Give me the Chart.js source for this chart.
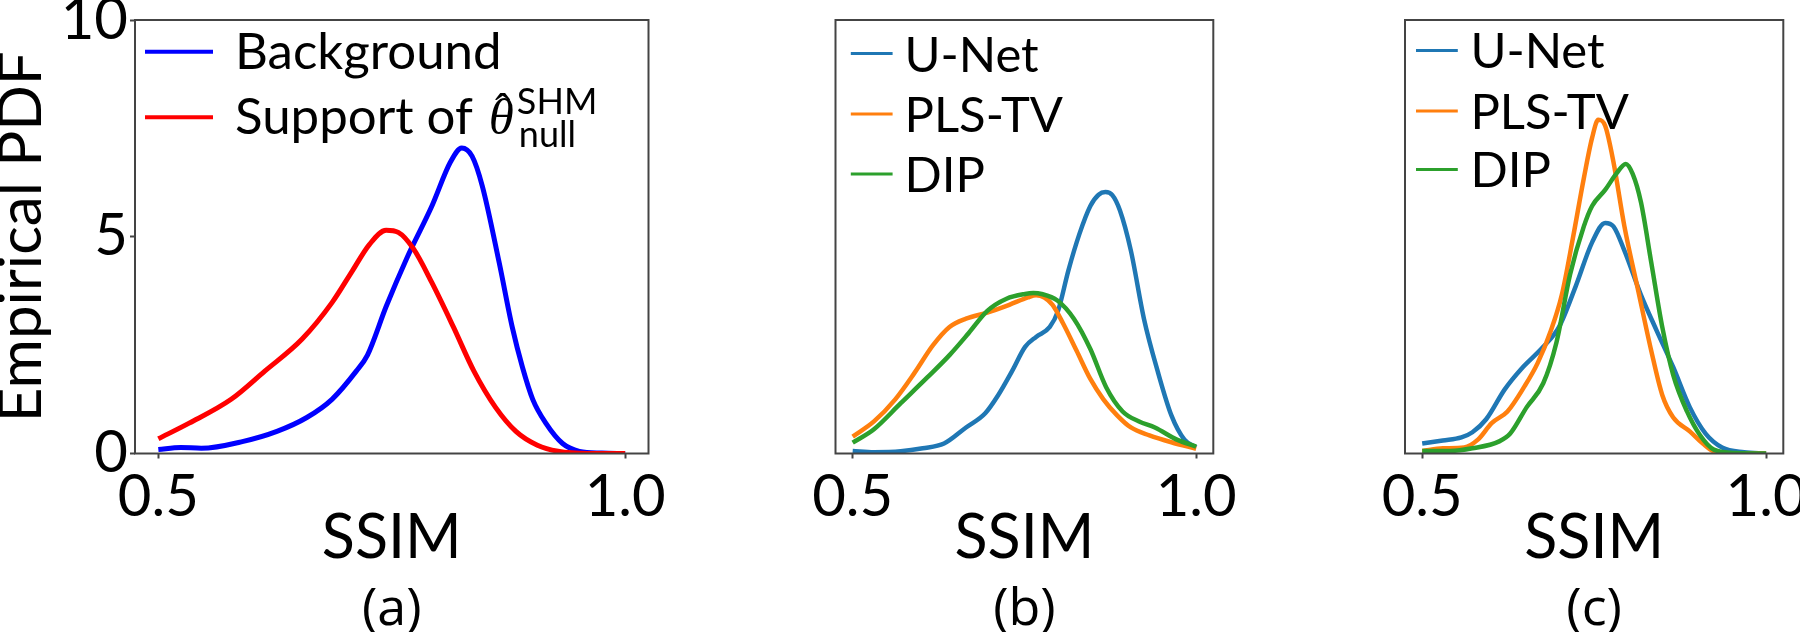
<!DOCTYPE html>
<html><head><meta charset="utf-8">
<script src="https://cdn.jsdelivr.net/npm/chart.js@4.4.1/dist/chart.umd.min.js"></script>
<style>
html,body{margin:0;padding:0;background:#fff;}
#wrap{position:relative;width:1800px;height:632px;overflow:hidden;background:#fff;}
canvas{position:absolute;left:0;top:0;}
</style></head><body>
<div id="wrap">
<canvas id="ca" width="1800" height="632"></canvas>
<canvas id="cb" width="1800" height="632"></canvas>
<canvas id="cc" width="1800" height="632"></canvas>
</div>
<script>
// ---------------- data ----------------
const xTicks = [0.5, 1.0];
const yTicks = [0, 5, 10];
const panelLabels = ['(a)', '(b)', '(c)'];
const xTitle = 'SSIM';
const yTitle = 'Empirical PDF';
const namesA = ['Background', 'Support of'];
const mathA = {sym: 'θ', hat: 'ˆ', sup: 'SHM', sub: 'null'};
const namesBC = ['U-Net', 'PLS-TV', 'DIP'];

// (a) Background
const bgX = [0.500,0.524,0.546,0.591,0.627,0.659,0.686,0.712,0.724,0.744,0.766,0.793,0.813,0.825,0.836,0.847,0.865,0.879,0.890,0.901,0.915,0.933,0.951,0.975,1.000];
const bgY = [0.09,0.14,0.12,0.28,0.51,0.83,1.25,1.90,2.27,3.39,4.50,5.71,6.73,7.05,6.86,6.17,4.41,2.92,1.99,1.25,0.70,0.23,0.05,0.01,0.00];
// (a) Support of theta
const supX = [0.500,0.533,0.578,0.614,0.654,0.686,0.708,0.726,0.744,0.757,0.773,0.793,0.816,0.838,0.861,0.883,0.906,0.928,0.960,1.000];
const supY = [0.34,0.70,1.25,1.90,2.64,3.48,4.22,4.82,5.15,5.10,4.73,3.94,2.92,1.90,1.07,0.51,0.19,0.05,0.00,0.00];

// (b)
const bUnetX = [0.500,0.531,0.570,0.602,0.633,0.665,0.693,0.712,0.732,0.751,0.767,0.787,0.799,0.814,0.830,0.846,0.858,0.868,0.878,0.889,0.905,0.924,0.944,0.964,0.983,1.000];
const bUnetY = [0.06,0.03,0.05,0.12,0.23,0.60,0.93,1.35,1.90,2.46,2.69,2.92,3.29,4.22,5.06,5.71,5.97,6.03,5.96,5.61,4.68,3.11,1.90,0.88,0.32,0.14];
const bPlsX = [0.500,0.531,0.562,0.590,0.617,0.641,0.665,0.696,0.728,0.755,0.767,0.779,0.791,0.806,0.826,0.846,0.865,0.885,0.905,0.932,0.964,1.000];
const bPlsY = [0.39,0.74,1.25,1.86,2.50,2.92,3.11,3.25,3.43,3.60,3.65,3.60,3.43,3.01,2.37,1.72,1.25,0.88,0.60,0.42,0.26,0.11];
const bDipX = [0.500,0.531,0.570,0.609,0.641,0.669,0.696,0.724,0.751,0.763,0.775,0.798,0.822,0.846,0.869,0.893,0.917,0.940,0.972,1.000];
const bDipY = [0.25,0.56,1.16,1.76,2.27,2.78,3.29,3.57,3.68,3.70,3.68,3.53,3.11,2.41,1.53,0.97,0.74,0.60,0.32,0.16];

// (c)
const cUnetX = [0.500,0.530,0.557,0.573,0.593,0.620,0.644,0.676,0.699,0.723,0.747,0.766,0.778,0.794,0.818,0.841,0.865,0.889,0.912,0.936,0.968,1.000];
const cUnetY = [0.23,0.30,0.37,0.49,0.79,1.48,1.95,2.46,2.92,3.85,4.87,5.32,5.24,4.68,3.66,2.83,1.99,1.07,0.46,0.14,0.03,0.00];
const cPlsX = [0.500,0.530,0.561,0.581,0.601,0.624,0.648,0.668,0.687,0.703,0.719,0.735,0.747,0.756,0.766,0.778,0.794,0.814,0.833,0.849,0.865,0.889,0.908,0.924,0.956,1.000];
const cPlsY = [0.06,0.12,0.14,0.32,0.70,0.97,1.53,2.09,2.83,3.66,4.96,6.35,7.28,7.70,7.56,6.73,5.24,3.76,2.37,1.35,0.83,0.51,0.23,0.05,0.00,0.00];
const cDipX = [0.500,0.541,0.573,0.612,0.628,0.652,0.676,0.695,0.715,0.735,0.747,0.766,0.782,0.796,0.806,0.818,0.833,0.849,0.865,0.885,0.904,0.924,0.956,1.000];
const cDipY = [0.06,0.06,0.12,0.28,0.46,1.07,1.62,2.55,4.13,5.24,5.71,6.08,6.45,6.68,6.45,5.80,4.41,2.92,1.81,0.97,0.42,0.09,0.01,0.00];

// ---------------- styling ----------------
const FONT = "Lato, 'DejaVu Sans', sans-serif";
const BLUE = '#0000ff', RED = '#ff0000';
const T_BLUE = '#1f77b4', T_ORANGE = '#ff7f0e', T_GREEN = '#2ca02c';
const FRAME = '#444';
const PLOT_TOP = 20, PLOT_BOTTOM = 453.5, W = 1800, H = 632;
const TITLE_H = 52 * 0.85;
const XSCALE_H = H - PLOT_BOTTOM - TITLE_H;

Chart.defaults.color = '#000';
Chart.defaults.font.family = FONT;

function pts(xs, ys) { return xs.map((x, i) => ({x: x, y: ys[i]})); }
function ds(label, xs, ys, color, lw, order) {
  return {label: label, data: pts(xs, ys), borderColor: color, backgroundColor: color,
          borderWidth: lw, pointRadius: 0, fill: false, order: order,
          cubicInterpolationMode: 'monotone'};
}

const framePlugin = {
  id: 'frame',
  afterDraw(chart) {
    const {ctx, chartArea: a} = chart;
    ctx.save();
    ctx.strokeStyle = FRAME; ctx.lineWidth = 2;
    ctx.strokeRect(a.left, a.top, a.right - a.left, a.bottom - a.top);
    ctx.restore();
  }
};

const legendPlugin = {
  id: 'mlegend',
  afterDraw(chart, args, o) {
    if (!o || !o.items) return;
    const {ctx, chartArea: a} = chart;
    ctx.save();
    o.items.forEach((it, i) => {
      const y = a.top + o.rows[i];
      ctx.strokeStyle = it.color; ctx.lineWidth = o.handleWidth; ctx.lineCap = 'butt';
      ctx.beginPath(); ctx.moveTo(a.left + o.h0, y); ctx.lineTo(a.left + o.h1, y); ctx.stroke();
      ctx.fillStyle = '#000'; ctx.textAlign = 'left'; ctx.textBaseline = 'alphabetic';
      ctx.font = o.size + 'px ' + FONT;
      const x0 = a.left + o.tx, base = y + o.baseOff;
      ctx.fillText(it.text, x0, base);
      if (it.math) {
        let x = x0 + ctx.measureText(it.text).width + o.mathGap;
        ctx.font = 'italic ' + o.size + "px 'Liberation Serif', serif";
        const tw = ctx.measureText(it.math.sym).width;
        ctx.fillText(it.math.sym, x, base);
        ctx.textAlign = 'center';
        ctx.font = (o.size * 0.9) + "px 'Liberation Serif', serif";
        ctx.fillText(it.math.hat, x + tw * 0.55, base - 8);
        ctx.textAlign = 'left';
        ctx.font = Math.round(o.size * 0.7) + 'px ' + FONT;
        ctx.fillText(it.math.sup, x + tw + 3, base - 20);
        ctx.fillText(it.math.sub, x + tw + 5, base + 13);
      }
    });
    ctx.restore();
  }
};

function fix(dim, size) {
  return function (s) {
    s[dim] = size;
    s.paddingLeft = 0; s.paddingRight = 0; s.paddingTop = 0; s.paddingBottom = 0;
  };
}

function makeChart(id, cfg) {
  const showY = cfg.showY;
  return new Chart(document.getElementById(id), {
    type: 'line',
    data: {datasets: cfg.datasets},
    options: {
      responsive: false, animation: false, devicePixelRatio: 1,
      layout: {padding: {left: cfg.left - (showY ? 135 : 0), right: W - cfg.right, top: PLOT_TOP, bottom: 0}},
      plugins: {
        legend: {display: false}, tooltip: {enabled: false},
        title: {display: true, text: cfg.label, position: 'bottom', fullSize: false,
                font: {family: "'Open Sans', sans-serif", size: 52, lineHeight: 0.85, weight: 'normal'},
                padding: 0, color: '#000'},
        mlegend: cfg.legend
      },
      scales: {
        x: {
          type: 'linear', min: 0.475, max: 1.025,
          afterBuildTicks: s => { s.ticks = xTicks.map(v => ({value: v})); },
          afterFit: fix('height', XSCALE_H),
          ticks: {autoSkip: false, maxRotation: 0, font: {size: 58}, padding: 4, color: '#000',
                  callback: v => Number(v).toFixed(1)},
          grid: {drawOnChartArea: false, drawTicks: true, tickLength: 5, tickColor: FRAME, tickWidth: 2},
          border: {display: false},
          title: {display: true, text: xTitle, font: {size: 61, lineHeight: 1}, padding: {top: 0, bottom: 19}, color: '#000'}
        },
        y: {
          type: 'linear', min: 0, max: 10, display: showY,
          afterBuildTicks: s => { s.ticks = yTicks.map(v => ({value: v})); },
          afterFit: fix('width', 135),
          ticks: {font: {size: 58}, padding: 2, color: '#000', callback: v => String(v)},
          grid: {drawOnChartArea: false, drawTicks: true, tickLength: 5, tickColor: FRAME, tickWidth: 2},
          border: {display: false},
          title: {display: showY, text: yTitle, font: {size: 60, lineHeight: 0.73}, padding: {top: 0, bottom: 0}, color: '#000'}
        }
      }
    },
    plugins: [framePlugin, legendPlugin]
  });
}

makeChart('ca', {
  left: 135, right: 648.5, showY: true, label: panelLabels[0],
  datasets: [ds(namesA[0], bgX, bgY, BLUE, 5, 2), ds(namesA[1], supX, supY, RED, 5, 1)],
  legend: {items: [{text: namesA[0], color: BLUE}, {text: namesA[1], color: RED, math: mathA}],
           rows: [31.7, 97.3], h0: 10, h1: 78, tx: 100, size: 51, baseOff: 17, handleWidth: 4, mathGap: 16}
});
makeChart('cb', {
  left: 700.5, right: 1213.3, showY: false, label: panelLabels[1],
  datasets: [ds(namesBC[0], bUnetX, bUnetY, T_BLUE, 4.5, 3), ds(namesBC[1], bPlsX, bPlsY, T_ORANGE, 4.5, 2), ds(namesBC[2], bDipX, bDipY, T_GREEN, 4.5, 1)],
  legend: {items: [{text: namesBC[0], color: T_BLUE}, {text: namesBC[1], color: T_ORANGE}, {text: namesBC[2], color: T_GREEN}],
           rows: [33.6, 94, 154], h0: 15.3, h1: 57.1, tx: 69, size: 49, baseOff: 18, handleWidth: 3}
});
makeChart('cc', {
  left: 1270, right: 1783.3, showY: false, label: panelLabels[2],
  datasets: [ds(namesBC[0], cUnetX, cUnetY, T_BLUE, 4.5, 3), ds(namesBC[1], cPlsX, cPlsY, T_ORANGE, 4.5, 2), ds(namesBC[2], cDipX, cDipY, T_GREEN, 4.5, 1)],
  legend: {items: [{text: namesBC[0], color: T_BLUE}, {text: namesBC[1], color: T_ORANGE}, {text: namesBC[2], color: T_GREEN}],
           rows: [30.4, 90.9, 149.4], h0: 11, h1: 52.8, tx: 65.4, size: 49, baseOff: 18, handleWidth: 3}
});
</script>
</body></html>
